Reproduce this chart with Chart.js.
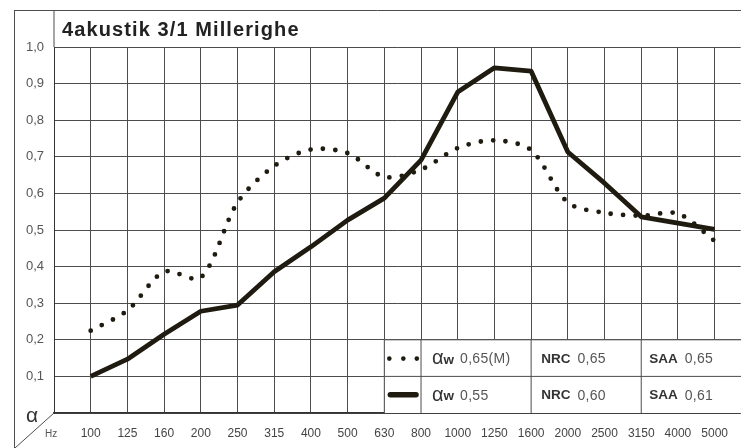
<!DOCTYPE html>
<html>
<head>
<meta charset="utf-8">
<script src="https://cdn.jsdelivr.net/npm/chart.js@4/dist/chart.umd.min.js"></script>
<style>
  html, body { margin: 0; padding: 0; background: #fff; }
  canvas { display: block; }
</style>
</head>
<body>
<canvas id="alphaChart" width="741" height="448"></canvas>
<script>
// --- DATA ---
const freqLabels = ['100', '125', '160', '200', '250', '315', '400', '500', '630', '800',
                    '1000', '1250', '1600', '2000', '2500', '3150', '4000', '5000'];
const alphaDotted = [0.225, 0.28, 0.386, 0.37, 0.575, 0.675, 0.72, 0.71, 0.645, 0.665,
                     0.724, 0.745, 0.718, 0.575, 0.547, 0.539, 0.545, 0.47];
const alphaSolid = [0.10, 0.147, 0.215, 0.278, 0.295, 0.386, 0.454, 0.527, 0.587, 0.691,
                    0.877, 0.943, 0.934, 0.713, 0.628, 0.536, 0.519, 0.502];
const yTickLabels = ['', '0,1', '0,2', '0,3', '0,4', '0,5', '0,6', '0,7', '0,8', '0,9', '1,0'];

const titleText = '4akustik 3/1 Millerighe';
const legendRows = [
    { aw: '0,65(M)', nrc: '0,65', saa: '0,65' },
    { aw: '0,55', nrc: '0,60', saa: '0,61' }
];

const FONT = '"Liberation Sans", Arial, Helvetica, sans-serif';
const INK = '#1f1b10';
const GRID = '#4d4d4d';

// --- FRAME, TITLE AND LEGEND TABLE ---
const framePlugin = {
    id: 'frame',
    afterDatasetsDraw(chart) {
        const ctx = chart.ctx;
        const xs = chart.scales.x, ys = chart.scales.y;
        const right = chart.width;
        const x8 = xs.getPixelForValue(8), x9 = xs.getPixelForValue(9);
        const x12 = xs.getPixelForValue(12), x15 = xs.getPixelForValue(15);
        const yTop = ys.getPixelForValue(0.2), yMid = ys.getPixelForValue(0.1), yBot = ys.getPixelForValue(0);

        ctx.save();
        ctx.fillStyle = '#fff';
        ctx.fillRect(x8, yTop, right - x8, yBot - yTop);

        ctx.strokeStyle = GRID;
        ctx.lineWidth = 1;
        ctx.beginPath();
        [yTop, yMid].forEach(y => { ctx.moveTo(x8, y); ctx.lineTo(right, y); });
        [x8, x9, x12, x15].forEach(x => { ctx.moveTo(x, yTop); ctx.lineTo(x, yBot); });
        ctx.stroke();

        // samples
        const r1 = (yTop + yMid) / 2, r2 = (yMid + yBot) / 2;
        ctx.fillStyle = INK;
        [x8 + 5, x8 + 19, x8 + 32.5].forEach(x => {
            ctx.beginPath(); ctx.arc(x, r1 + 0.5, 2.3, 0, Math.PI * 2); ctx.fill();
        });
        ctx.strokeStyle = INK;
        ctx.lineWidth = 5.5;
        ctx.lineCap = 'round';
        ctx.beginPath(); ctx.moveTo(x8 + 6, r2); ctx.lineTo(x9 - 5, r2); ctx.stroke();

        // texts
        ctx.textBaseline = 'middle';
        const label = (txt, x, y) => {
            ctx.fillStyle = '#333';
            ctx.font = 'bold 13.5px ' + FONT;
            ctx.letterSpacing = '0px';
            ctx.fillText(txt, x, y);
            return x + ctx.measureText(txt).width;
        };
        const value = (txt, x, y) => {
            ctx.fillStyle = '#555';
            ctx.font = '14px ' + FONT;
            ctx.letterSpacing = '0.3px';
            ctx.fillText(txt, x, y);
        };
        legendRows.forEach((row, i) => {
            const y = i === 0 ? r1 : r2;
            let x = x9 + 11;
            ctx.fillStyle = '#333';
            ctx.font = '20px ' + FONT;
            ctx.letterSpacing = '0px';
            ctx.fillText('α', x, y + 0.5);
            x += ctx.measureText('α').width;
            x = label('w', x, y + 2);
            value(row.aw, x + 6, y + 1);

            x = label('NRC', x12 + 10, y + 1);
            value(row.nrc, x + 7, y + 1);

            x = label('SAA', x15 + 8, y + 1);
            value(row.saa, x + 7, y + 1);
        });
        ctx.letterSpacing = '0px';
        ctx.restore();
    },
    afterDraw(chart) {
        const ctx = chart.ctx;
        const area = chart.chartArea;
        ctx.save();
        ctx.strokeStyle = GRID;
        ctx.lineWidth = 1;
        ctx.beginPath();
        ctx.moveTo(14, 10.5); ctx.lineTo(chart.width, 10.5);
        ctx.moveTo(14.5, 10); ctx.lineTo(14.5, chart.height);
        ctx.moveTo(area.left, 10); ctx.lineTo(area.left, area.top);
        ctx.moveTo(area.left, area.bottom); ctx.lineTo(15, chart.height);
        ctx.stroke();

        ctx.fillStyle = '#222';
        ctx.font = 'bold 20px ' + FONT;
        ctx.letterSpacing = '1.1px';
        ctx.textBaseline = 'alphabetic';
        ctx.fillText(titleText, 62, 36);
        ctx.letterSpacing = '0px';

        ctx.fillStyle = '#333';
        ctx.font = '21px ' + FONT;
        ctx.fillText('α', 26, 422);
        ctx.fillStyle = '#555';
        ctx.font = '10px ' + FONT;
        ctx.fillText('Hz', 45, 437);
        ctx.restore();
    }
};

// --- CHART ---
const ctx = document.getElementById('alphaChart').getContext('2d');
new Chart(ctx, {
    type: 'line',
    data: {
        datasets: [
            {
                label: 'αw 0,65(M)',
                data: alphaDotted.map((v, i) => ({ x: i, y: v })),
                borderColor: INK,
                borderWidth: 4.8,
                borderDash: [0, 12.4],
                borderCapStyle: 'round',
                pointRadius: 0,
                tension: 0.3,
                fill: false
            },
            {
                label: 'αw 0,55',
                data: alphaSolid.map((v, i) => ({ x: i, y: v })),
                borderColor: INK,
                borderWidth: 4.8,
                borderJoinStyle: 'round',
                pointRadius: 0,
                tension: 0,
                fill: false
            }
        ]
    },
    options: {
        responsive: false,
        animation: false,
        layout: { padding: { top: 47, left: 0, right: 0, bottom: 0 } },
        plugins: {
            legend: { display: false },
            tooltip: { enabled: false },
            title: { display: false }
        },
        scales: {
            x: {
                type: 'linear',
                min: -1,
                max: 17.71,
                afterBuildTicks: axis => {
                    axis.ticks = [-1].concat(freqLabels.map((_, i) => i)).map(v => ({ value: v }));
                },
                afterFit: axis => { axis.height = 35; },
                ticks: {
                    callback: v => freqLabels[v] ?? '',
                    autoSkip: false,
                    maxRotation: 0,
                    padding: 13,
                    color: '#444',
                    font: { family: FONT, size: 12 }
                },
                grid: { color: GRID, lineWidth: 1, drawTicks: false },
                border: { display: true, color: '#333', width: 1.5 }
            },
            y: {
                min: 0,
                max: 1,
                afterBuildTicks: axis => {
                    axis.ticks = yTickLabels.map((_, i) => ({ value: i / 10 }));
                },
                afterFit: axis => { axis.width = 54; },
                ticks: {
                    callback: (v, i) => yTickLabels[i],
                    padding: 10,
                    color: '#555',
                    font: { family: FONT, size: 13 }
                },
                grid: { color: GRID, lineWidth: 1, drawTicks: false },
                border: { display: true, color: '#333', width: 1 }
            }
        }
    },
    plugins: [framePlugin]
});
</script>
</body>
</html>
